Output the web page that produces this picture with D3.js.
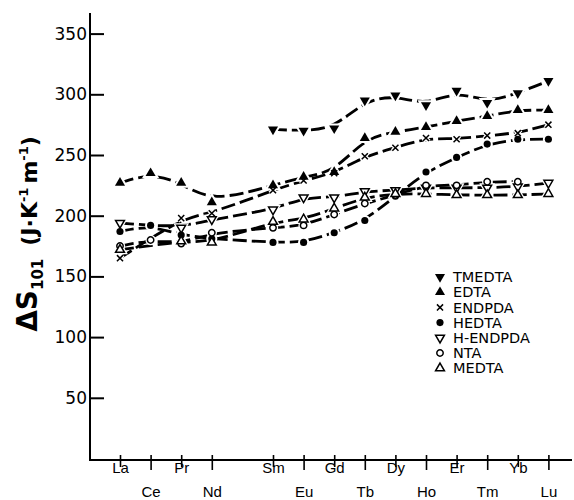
<!DOCTYPE html>
<html>
<head>
<meta charset="utf-8">
<script src="https://cdn.jsdelivr.net/npm/d3@7"></script>
<style>
  body { margin: 0; background: #fff; }
  svg { display: block; }
</style>
</head>
<body>
<div id="chart"></div>
<script>
// lanthanide series, Pm has no data
const elements = ["La","Ce","Pr","Nd","Sm","Eu","Gd","Tb","Dy","Ho","Er","Tm","Yb","Lu"];
const atomicNumbers = [57,58,59,60,62,63,64,65,66,67,68,69,70,71];
const yTicks = [50,100,150,200,250,300,350];
const seriesNames = ["TMEDTA","EDTA","ENDPDA","HEDTA","H-ENDPDA","NTA","MEDTA"];

// delta S101 values, null where no point
const tmedta   = [null,null,null,null,271,270,272,295,299,291,303,293,301,311];
const edta     = [227,235,227,211,225,232,236,264,269,273,278,282,287,287];
const endpda   = [165,null,198,202,221,229,235,249,256,264,263,266,268,275];
const hedta    = [187,192,184,181,178,178,186,196,216,236,248,259,263,263];
const hEndpda  = [194,null,190,197,205,215,215,220,221,223,223,223,224,227];
const nta      = [175,180,177,186,190,192,201,210,217,225,225,228,228,null];
const medta    = [172,null,179,178,195,197,206,215,218,218,217,217,217,218];

const seriesValues = [tmedta, edta, endpda, hedta, hEndpda, nta, medta];

const svgWidth = 574;
const svgHeight = 500;

const svg = d3.select("#chart")
    .append("svg")
    .attr("width", svgWidth)
    .attr("height", svgHeight);

const xScale = d3.scaleLinear().domain([57, 71]).range([120, 548.4]);
const yScale = d3.scaleLinear().domain([0, 350]).range([458.5, 33.6]);

const axisX = 90;
const axisY = 460;

// marker styles per series
const markerStyle = {
    "TMEDTA":   { type: d3.symbolTriangle, size: 44, rotate: 180, fill: "#000", stroke: "none" },
    "EDTA":     { type: d3.symbolTriangle, size: 44, rotate: 0,   fill: "#000", stroke: "none" },
    "ENDPDA":   { type: d3.symbolTimes,    size: 26, rotate: 0,   fill: "none", stroke: "#000" },
    "HEDTA":    { type: d3.symbolCircle,   size: 40, rotate: 0,   fill: "#000", stroke: "none" },
    "H-ENDPDA": { type: d3.symbolTriangle, size: 34, rotate: 180, fill: "#fff", stroke: "#000" },
    "NTA":      { type: d3.symbolCircle,   size: 32, rotate: 0,   fill: "#fff", stroke: "#000" },
    "MEDTA":    { type: d3.symbolTriangle, size: 34, rotate: 0,   fill: "#fff", stroke: "#000" }
};

const seriesData = seriesNames.map((name, s) => ({
    name: name,
    points: seriesValues[s]
        .map((v, i) => ({ z: atomicNumbers[i], value: v }))
        .filter(d => d.value !== null)
}));

// axes
svg.append("line")
    .attr("x1", axisX).attr("x2", axisX)
    .attr("y1", 13).attr("y2", axisY + 1)
    .attr("stroke", "#000")
    .attr("stroke-width", 2);

svg.append("line")
    .attr("x1", axisX - 1).attr("x2", 572)
    .attr("y1", axisY).attr("y2", axisY)
    .attr("stroke", "#000")
    .attr("stroke-width", 2);

svg.append("g")
    .attr("transform", "translate(" + axisX + ",0)")
    .call(d3.axisLeft(yScale)
        .tickValues(yTicks)
        .tickSize(-14)
        .tickPadding(3))
    .call(g => {
        g.select(".domain").remove();
        g.selectAll("line")
            .attr("stroke", "#000")
            .attr("stroke-width", 2);
        g.selectAll("text")
            .attr("fill", "#000")
            .attr("font-family", "DejaVu Sans, sans-serif")
            .attr("font-size", "17px");
    });

svg.append("g")
    .attr("transform", "translate(0," + axisY + ")")
    .call(d3.axisBottom(xScale)
        .tickValues(atomicNumbers)
        .tickFormat((d, i) => elements[i]))
    .call(g => {
        g.select(".domain").remove();
        g.selectAll("line")
            .attr("stroke", "#000")
            .attr("stroke-width", 1.6)
            .attr("y1", -5)
            .attr("y2", (d, i) => i % 2 === 0 ? 7 : 10);
        g.selectAll("text")
            .attr("fill", "#000")
            .attr("font-family", "Liberation Sans, sans-serif")
            .attr("font-size", "15px")
            .attr("dy", null)
            .attr("y", (d, i) => i % 2 === 0 ? 13 : 37);
    });

// y label
const yLabel = svg.append("text")
    .attr("transform", "translate(37,234) rotate(-90)")
    .attr("text-anchor", "middle")
    .attr("font-family", "DejaVu Sans, sans-serif")
    .attr("font-weight", "bold")
    .attr("fill", "#000");
yLabel.append("tspan").attr("font-size", "28px").text("ΔS");
yLabel.append("tspan").attr("font-size", "15px").attr("dy", 6).text("101");
yLabel.append("tspan").attr("font-size", "22px").attr("dy", -6).attr("dx", 13).text("(J·K");
yLabel.append("tspan").attr("font-size", "13px").attr("dy", -9).text("-1");
yLabel.append("tspan").attr("font-size", "22px").attr("dy", 9).attr("dx", 4).text("m");
yLabel.append("tspan").attr("font-size", "13px").attr("dy", -9).text("-1");
yLabel.append("tspan").attr("font-size", "22px").attr("dy", 9).text(")");

// fitted curves
const line = d3.line()
    .curve(d3.curveBasis)
    .x(d => xScale(d.z))
    .y(d => yScale(d.value));

svg.append("g")
    .selectAll("path")
    .data(seriesData)
    .enter()
    .append("path")
    .attr("fill", "none")
    .attr("stroke", "#000")
    .attr("stroke-width", 2.8)
    .attr("stroke-dasharray", "14,5")
    .attr("d", d => line(d.points));

const symbolPath = (name) => d3.symbol().type(markerStyle[name].type).size(markerStyle[name].size)();

// white halos so the curves break at the points
const halos = svg.append("g");
const marks = svg.append("g");

seriesData.forEach(series => {
    const st = markerStyle[series.name];
    halos.selectAll(null)
        .data(series.points)
        .enter()
        .append("path")
        .attr("d", symbolPath(series.name))
        .attr("transform", d => "translate(" + xScale(d.z) + "," + yScale(d.value) + ") rotate(" + st.rotate + ")")
        .attr("fill", "#fff")
        .attr("stroke", "#fff")
        .attr("stroke-width", 4);
    marks.selectAll(null)
        .data(series.points)
        .enter()
        .append("path")
        .attr("d", symbolPath(series.name))
        .attr("transform", d => "translate(" + xScale(d.z) + "," + yScale(d.value) + ") rotate(" + st.rotate + ")")
        .attr("fill", st.fill)
        .attr("stroke", st.stroke)
        .attr("stroke-width", 1.5);
});

// legend
const legend = svg.append("g")
    .attr("transform", "translate(440,277)");

const legendRow = legend.selectAll("g")
    .data(seriesNames)
    .enter()
    .append("g")
    .attr("transform", (d, i) => "translate(0," + (i * 15.2) + ")");

legendRow.append("path")
    .attr("d", d => symbolPath(d))
    .attr("transform", d => "rotate(" + markerStyle[d].rotate + ")")
    .attr("fill", d => markerStyle[d].fill)
    .attr("stroke", d => markerStyle[d].stroke)
    .attr("stroke-width", 1.5);

legendRow.append("text")
    .attr("x", 13)
    .attr("dy", "0.36em")
    .attr("font-family", "DejaVu Sans, sans-serif")
    .attr("font-size", "14.5px")
    .attr("fill", "#000")
    .text(d => d);
</script>
</body>
</html>
